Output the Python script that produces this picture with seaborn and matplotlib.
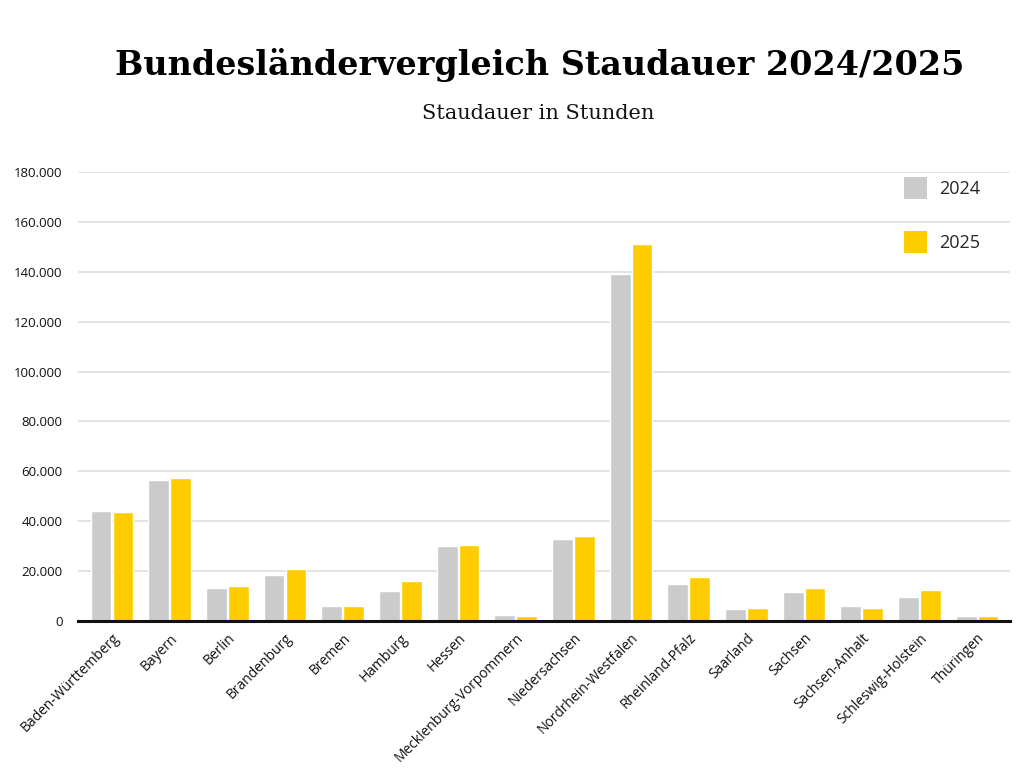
import matplotlib
matplotlib.use("Agg")
import matplotlib.pyplot as plt
import seaborn as sns
import pandas as pd
from matplotlib.ticker import FuncFormatter
from matplotlib.patches import Patch

laender = ["Baden-Württemberg", "Bayern", "Berlin", "Brandenburg", "Bremen", "Hamburg",
           "Hessen", "Mecklenburg-Vorpommern", "Niedersachsen", "Nordrhein-Westfalen",
           "Rheinland-Pfalz", "Saarland", "Sachsen", "Sachsen-Anhalt",
           "Schleswig-Holstein", "Thüringen"]
werte_2024 = [44200, 56400, 13300, 18400, 6000, 12100, 29900, 2500, 32700, 139300,
              14800, 4700, 11800, 6100, 9600, 2100]
werte_2025 = [43700, 57200, 14000, 21000, 6200, 16000, 30400, 2100, 33900, 151000,
              17600, 5300, 13200, 5200, 12500, 2000]
jahre = ["2024", "2025"]
farben = ["#CBCBCB", "#FFCC00"]
yticks = [0, 20000, 40000, 60000, 80000, 100000, 120000, 140000, 160000, 180000]

df = pd.DataFrame({
    "Land": laender * 2,
    "Jahr": [jahre[0]] * len(laender) + [jahre[1]] * len(laender),
    "Stunden": werte_2024 + werte_2025,
})

sns.set_theme(style="white")
plt.rcParams["font.family"] = ["Open Sans", "DejaVu Sans"]

fig = plt.figure(figsize=(10.24, 7.68), dpi=100)
ax = fig.add_axes([78 / 1024, 147 / 768, 932 / 1024, 449 / 768])

sns.barplot(data=df, x="Land", y="Stunden", hue="Jahr", palette=farben,
            width=0.76, gap=0.05, ax=ax, legend=False, saturation=1)

ax.set_ylim(0, 180000)
ax.set_xlim(-0.59, len(laender) - 0.43)
ax.set_yticks(yticks)
ax.yaxis.set_major_formatter(FuncFormatter(lambda v, p: f"{int(v):,}".replace(",", ".")))
ax.grid(axis="y", color="#DEDEDE", linewidth=1.2)
ax.set_axisbelow(True)
for s in ["top", "right", "left"]:
    ax.spines[s].set_visible(False)
ax.spines["bottom"].set_color("#111111")
ax.spines["bottom"].set_linewidth(2.2)
ax.set_xlabel("")
ax.set_ylabel("")
ax.tick_params(axis="y", length=0, pad=11, labelsize=9.5, labelcolor="#111111")
ax.tick_params(axis="x", length=0, pad=7, labelsize=10, labelcolor="#111111")
plt.setp(ax.get_xticklabels(), rotation=45, ha="right", rotation_mode="anchor")

handles = [Patch(facecolor=c, edgecolor="none") for c in farben]
leg = ax.legend(handles, jahre, loc="upper right", bbox_to_anchor=(0.985, 1.025),
                frameon=False, fontsize=13, handlelength=1.25, handleheight=1.5,
                labelspacing=1.75, handletextpad=0.65)

fig.text(0.527, 0.915, "Bundesländervergleich Staudauer 2024/2025",
         ha="center", va="center", fontsize=24, fontweight="bold",
         family=["DejaVu Serif"], color="#000000")
fig.text(0.526, 0.852, "Staudauer in Stunden", ha="center", va="center",
         fontsize=15, family=["DejaVu Serif"], color="#111111")

fig.savefig("out.png", dpi=100, facecolor="white")
